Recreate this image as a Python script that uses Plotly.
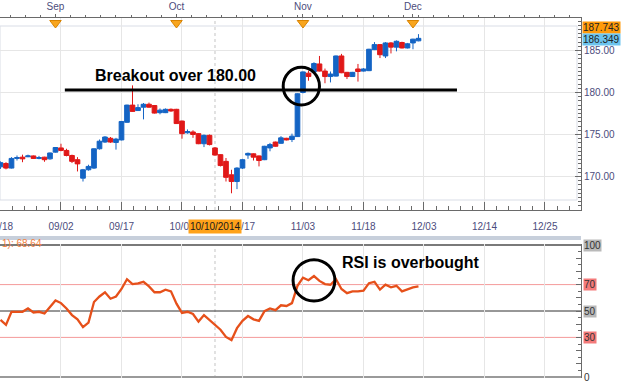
import plotly.graph_objects as go

# ---------------- data ----------------
open_ = [171.15, 171.55, 171.0, 172.15, 172.3, 172.35, 172.45, 172.15, 172.3, 172.1,
         172.9, 173.4, 173.1, 172.5, 172.0, 169.8, 170.8, 171.0, 173.3, 174.1,
         174.55, 174.05, 174.35, 176.45, 178.5, 177.85, 178.25, 178.6, 178.45, 177.6,
         177.6, 178.0, 178.0, 176.6, 175.2, 175.3, 175.1, 173.9, 174.9, 173.4,
         172.6, 171.8, 170.2, 169.4, 171.0, 172.55, 172.7, 172.45, 172.0, 173.4,
         174.1, 173.95, 174.55, 174.4, 174.75, 180.0, 182.3, 182.45, 183.4, 182.55,
         181.9, 181.95, 184.35, 182.4, 181.9, 182.8, 182.55, 182.6, 185.1, 185.7,
         184.35, 185.9, 185.4, 185.95, 185.3, 185.9, 186.15]
high = [171.8, 171.7, 172.3, 172.5, 172.6, 172.6, 172.5, 172.45, 172.35, 172.85,
        173.5, 173.9, 173.3, 172.6, 172.3, 170.9, 171.4, 173.35, 174.4, 174.8,
        174.7, 174.6, 176.6, 178.55, 180.85, 178.6, 178.75, 178.8, 178.5, 178.1,
        178.1, 178.1, 178.05, 176.65, 175.6, 175.5, 175.15, 175.0, 175.0, 173.5,
        172.65, 172.2, 170.8, 171.1, 172.1, 172.85, 172.75, 172.5, 173.65, 174.0,
        174.15, 174.8, 174.6, 175.1, 179.9, 182.5, 182.6, 183.6, 184.35, 182.85,
        182.5, 184.4, 184.6, 182.45, 182.45, 183.4, 182.9, 185.2, 186.0, 185.75,
        186.0, 186.0, 186.2, 186.05, 185.9, 186.4, 186.95]
low = [170.9, 170.85, 170.95, 171.9, 171.7, 172.3, 172.1, 172.05, 171.75, 172.0,
       172.85, 173.0, 172.4, 171.6, 170.6, 169.4, 170.7, 170.9, 173.2, 174.0,
       174.0, 173.2, 174.3, 176.4, 177.7, 177.8, 176.8, 178.2, 177.5, 177.4,
       177.55, 177.7, 176.25, 174.5, 175.1, 174.6, 173.85, 173.5, 173.7, 172.5,
       171.2, 169.4, 168.0, 168.5, 170.9, 172.1, 171.9, 171.2, 171.95, 173.0,
       173.55, 173.9, 174.3, 174.1, 174.7, 179.9, 181.4, 182.4, 182.5, 181.1,
       181.2, 181.9, 182.3, 181.6, 181.85, 181.3, 182.5, 182.55, 185.05, 184.1,
       184.1, 184.65, 184.9, 185.25, 185.25, 185.15, 186.1]
close = [171.65, 171.0, 172.15, 172.25, 172.1, 172.45, 172.15, 172.25, 172.0, 172.8,
         173.45, 173.1, 172.5, 171.8, 171.5, 170.8, 171.2, 173.3, 174.2, 174.7,
         174.1, 174.45, 176.55, 178.5, 177.75, 178.2, 178.6, 178.25, 177.55, 177.9,
         178.0, 177.8, 176.3, 175.1, 175.35, 175.0, 173.9, 174.9, 173.8, 172.55,
         171.3, 169.9, 169.4, 171.0, 172.0, 172.75, 172.3, 171.9, 173.6, 173.8,
         173.6, 174.6, 174.35, 174.8, 179.85, 182.45, 181.9, 183.45, 182.55, 181.9,
         182.2, 184.35, 182.35, 181.9, 182.4, 182.5, 182.8, 185.15, 185.7, 184.5,
         185.9, 185.4, 186.1, 185.3, 185.8, 186.35, 186.45]
rsi = [43.2, 39.5, 49.4, 49.4, 49.4, 51.9, 48.9, 49.4, 48.1, 53.1,
       58.0, 56.0, 51.9, 46.9, 43.7, 37.8, 41.2, 56.8, 61.0, 64.2,
       59.3, 61.0, 66.7, 74.1, 70.4, 70.9, 72.1, 68.6, 64.2, 64.2,
       66.2, 64.9, 55.6, 48.6, 49.4, 47.7, 42.0, 46.9, 43.2, 40.2,
       35.8, 30.4, 27.9, 37.0, 42.5, 46.2, 43.7, 42.5, 49.9, 51.9,
       50.6, 54.3, 53.8, 56.0, 69.1, 75.3, 73.3, 76.5, 72.8, 70.4,
       69.9, 74.1, 66.7, 63.5, 64.9, 64.9, 65.4, 71.1, 72.1, 66.2,
       69.9, 67.9, 69.1, 64.9, 66.7, 67.9, 68.64]
bars = list(range(len(close)))          # trading-day index, 0 = 08/18

date_tick_bars = [0, 11, 22, 33, 44, 55, 66, 77, 88, 99]
date_tick_labels = ['08/18', '09/02', '09/17', '10/02', '10/17', '11/03',
                    '11/18', '12/03', '12/14', '12/25']
month_bars = [10, 32, 55, 75]
month_labels = ['Sep', 'Oct', 'Nov', 'Dec']
cursor_bar = 39
cursor_label = '10/10/2014'
high_price = 187.743
last_price = 186.349
rsi_levels = [100, 70, 50, 30, 0]
rsi_header = '1): 68.64'
breakout_level = 180.3
breakout_span = [11.7, 83]

# ---------------- layout helpers ----------------
W, H = 624, 384
def py(px):  # pixel row -> paper y
    return 1 - px / H
def pxx(px):
    return px / W

FONT = 'Liberation Sans, Arial, sans-serif'
BLUE = '#1464C4'
RED = '#E01818'
GRID = '#e6e6e6'
AX = '#6a6a6a'
LBL = '#4c4c7c'
XR = pxx(581)
x_range = [-0.09, 105.55]
price_range = [166.01, 188.87]
rsi_range = [-0.76, 100.76]
units_per_px = (price_range[1] - price_range[0]) / (210 - 18)
tri_y = price_range[1] - 5 * units_per_px

fig = go.Figure()
fig.add_trace(go.Candlestick(
    x=bars, open=open_, high=high, low=low, close=close,
    xaxis='x', yaxis='y', whiskerwidth=0, showlegend=False, hoverinfo='skip',
    increasing=dict(line=dict(color=BLUE, width=1), fillcolor=BLUE),
    decreasing=dict(line=dict(color=RED, width=1), fillcolor=RED)))
fig.add_trace(go.Scatter(
    x=month_bars, y=[tri_y] * len(month_bars), mode='markers', xaxis='x2', yaxis='y',
    marker=dict(symbol='triangle-down', size=10, color='#F8A51E',
                line=dict(color='#D98300', width=1)),
    showlegend=False, hoverinfo='skip', cliponaxis=False))
fig.add_trace(go.Scatter(
    x=bars, y=rsi, mode='lines', xaxis='x3', yaxis='y2',
    line=dict(color='#E6501A', width=2.3), showlegend=False, hoverinfo='skip'))

tickfont = dict(family=FONT, size=10, color=LBL)
fig.update_layout(
    width=W, height=H, margin=dict(l=0, r=0, t=0, b=0, autoexpand=False),
    paper_bgcolor='white', plot_bgcolor='white',
    boxgap=0.15, boxgroupgap=0,
    font=dict(family=FONT),
    xaxis=dict(domain=[0, XR], range=x_range, anchor='y', tickmode='array',
               tickvals=date_tick_bars, ticktext=date_tick_labels, tickfont=tickfont,
               showgrid=True, gridcolor=GRID, zeroline=False, automargin=False,
               ticks='inside', ticklen=8, tickcolor=AX, showline=True, linecolor=AX,
               ticklabelstandoff=7, ticklabeloverflow='allow',
               minor=dict(ticks='inside', ticklen=4, dtick=2.2, tick0=0, tickcolor=AX, showgrid=False),
               rangeslider=dict(visible=False)),
    xaxis2=dict(overlaying='x', side='top', anchor='y', range=x_range, tickmode='array',
                tickvals=month_bars, ticktext=month_labels, tickfont=tickfont,
                showgrid=False, zeroline=False, ticks='outside', ticklen=3, tickcolor=AX,
                showline=True, linecolor=AX, automargin=False,
                minor=dict(ticks='outside', ticklen=2, dtick=2.75, tick0=10, tickcolor=AX)),
    yaxis=dict(domain=[py(210), py(18)], range=price_range, side='right', anchor='x',
               tick0=0, dtick=5, tickformat='.2f', tickfont=tickfont, automargin=False,
               showgrid=True, gridcolor=GRID, zeroline=False,
               ticks='inside', ticklen=6, tickcolor=AX, showline=True, linecolor=AX,
               minor=dict(ticks='inside', ticklen=3, dtick=0.5, tickcolor=AX, showgrid=False)),
    xaxis3=dict(domain=[0, XR], range=x_range, anchor='y2', tickmode='array',
                tickvals=date_tick_bars, showticklabels=False, ticks='', automargin=False,
                showgrid=True, gridcolor=GRID, zeroline=False, showline=False),
    yaxis2=dict(domain=[py(378), py(244)], range=rsi_range, side='right', anchor='x3',
                tick0=0, dtick=10, showticklabels=False, showgrid=False, zeroline=False,
                ticks='inside', ticklen=5, tickcolor=AX, showline=True, linecolor=AX,
                automargin=False,
                minor=dict(ticks='inside', ticklen=3, dtick=5, tickcolor=AX)),
)

shapes = []
# inner light frame of price panel
shapes.append(dict(type='rect', xref='paper', yref='paper', x0=0, x1=pxx(577),
                   y0=py(200), y1=py(26), line=dict(color='#d9dde6', width=1), layer='below'))
# separator band between panels
shapes.append(dict(type='rect', xref='paper', yref='paper', x0=0, x1=XR,
                   y0=py(240), y1=py(236), fillcolor='#c7cfdb', line=dict(width=0)))
# cursor dotted lines
shapes.append(dict(type='line', xref='x', yref='y domain', x0=cursor_bar, x1=cursor_bar,
                   y0=0, y1=1, line=dict(color='#c4c4c4', width=1, dash='dot'), layer='below'))
shapes.append(dict(type='line', xref='x3', yref='y2 domain', x0=cursor_bar, x1=cursor_bar,
                   y0=0, y1=1, line=dict(color='#c4c4c4', width=1, dash='dot'), layer='below'))
# RSI level lines
level_style = {100: ('#7a7a7a', 2), 70: ('#f49a9a', 1), 50: ('#303030', 1),
               30: ('#f49a9a', 1), 0: ('#9a9a9a', 2)}
for lv in rsi_levels:
    c, w = level_style[lv]
    shapes.append(dict(type='line', xref='x3 domain', yref='y2', x0=0, x1=1, y0=lv, y1=lv,
                       line=dict(color=c, width=w), layer='below'))
# breakout line and circles
shapes.append(dict(type='line', xref='x', yref='y', x0=breakout_span[0], x1=breakout_span[1],
                   y0=breakout_level, y1=breakout_level, line=dict(color='black', width=3)))
shapes.append(dict(type='circle', xref='x', yref='y', x0=51.4, x1=58.0, y0=178.51, y1=183.0,
                   line=dict(color='black', width=3)))
shapes.append(dict(type='circle', xref='x3', yref='y2', x0=53.2, x1=60.8, y0=57.5, y1=88.9,
                   line=dict(color='black', width=3)))
fig.update_layout(shapes=shapes)

ann = []
ann.append(dict(text='Breakout over 180.00', xref='x', yref='y', x=31.9, y=182.08,
                showarrow=False, font=dict(family=FONT, size=16, color='black', weight='bold')))
ann.append(dict(text='RSI is overbought', xref='x3', yref='y2', x=74.6, y=87.1,
                showarrow=False, font=dict(family=FONT, size=16, color='black', weight='bold')))
ann.append(dict(text=cursor_label, xref='x', yref='paper', x=cursor_bar, y=py(226),
                showarrow=False, bgcolor='#FFA21A', borderpad=1,
                font=dict(family=FONT, size=10, color='#1a1a1a')))
ann.append(dict(text=f'{high_price:.3f}', xref='paper', yref='y', x=pxx(582), y=high_price,
                xanchor='left', showarrow=False, bgcolor='#FF9A0A', borderpad=0,
                font=dict(family=FONT, size=10, color='#222')))
ann.append(dict(text=f'{last_price:.3f}', xref='paper', yref='y', x=pxx(582), y=last_price,
                xanchor='left', showarrow=False, bgcolor='#6CC4EE', borderpad=0,
                font=dict(family=FONT, size=10, color='#222')))
level_bg = {100: '#b9b9b9', 70: '#f47a7a', 50: '#b9b9b9', 30: '#f47a7a', 0: '#ffffff'}
for lv in rsi_levels:
    ann.append(dict(text=str(lv), xref='paper', yref='y2', x=pxx(583), y=lv, xanchor='left',
                    showarrow=False, bgcolor=level_bg[lv], borderpad=0,
                    font=dict(family=FONT, size=10, color='#333')))
ann.append(dict(text=rsi_header, xref='paper', yref='paper', x=0, y=py(243), xanchor='left',
                showarrow=False, font=dict(family=FONT, size=10, color='#F08040')))
fig.update_layout(annotations=ann)

fig.write_html('out.html')
